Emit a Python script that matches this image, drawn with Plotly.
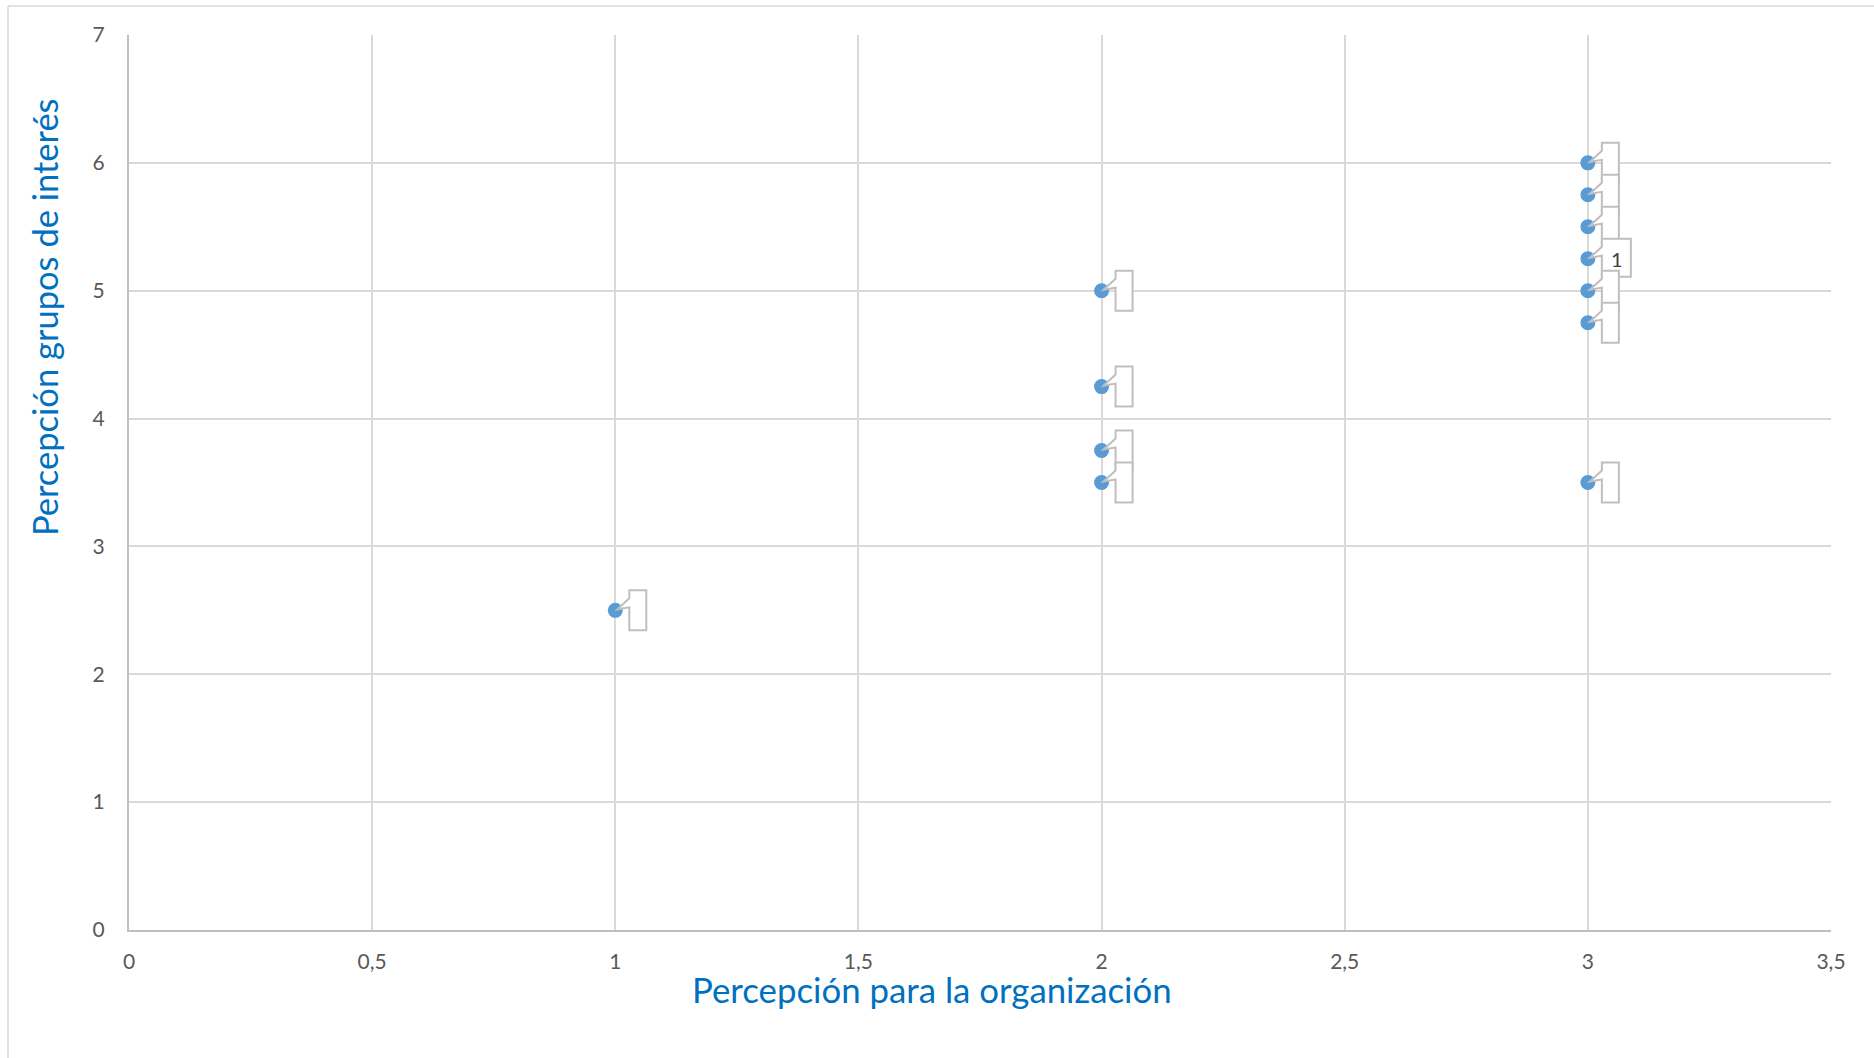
import plotly.graph_objects as go

# Data
org_x = [1, 2, 2, 2, 2, 3, 3, 3, 3, 3, 3, 3]
grupos_y = [2.5, 5, 4.25, 3.75, 3.5, 6, 5.75, 5.5, 5.25, 5, 4.75, 3.5]
point_labels = ["", "", "", "", "", "", "", "", "1", "", "", ""]

x_ticks = [0, 0.5, 1, 1.5, 2, 2.5, 3, 3.5]
y_ticks = [0, 1, 2, 3, 4, 5, 6, 7]

W, H = 1874, 1058
L, R, T, B = 129, 1831, 35, 930
pw, ph = R - L, B - T

FONT = "Lato"
GRID = "#d9d9d9"
AXIS = "#bfbfbf"
BLUE_TITLE = "#0070c0"


def callout_path(wide):
    # pixel offsets relative to the data point (y up)
    right = 43 if wide else 31
    top = 20
    bottom = -18 if wide else -20
    return (f"M 14 {top} L {right} {top} L {right} {bottom} L 14 {bottom} "
            f"L 14 3 L 2 1 L 14 12 Z")


fig = go.Figure()
fig.add_trace(go.Scatter(
    x=org_x, y=grupos_y, mode="markers",
    marker=dict(size=15, color="#5b9bd5", line=dict(width=0)),
    hoverinfo="x+y", showlegend=False,
))

annotations = []
shapes = []
for xv, yv, lab in zip(org_x, grupos_y, point_labels):
    wide = lab != ""
    shapes.append(dict(
        type="path", xref="x", yref="y", xsizemode="pixel", ysizemode="pixel",
        xanchor=xv, yanchor=yv, path=callout_path(wide),
        fillcolor="white", line=dict(color=AXIS, width=2), layer="above",
    ))
    if wide:
        annotations.append(dict(
            x=xv, y=yv, xref="x", yref="y", text=lab, showarrow=False,
            xshift=29, yshift=0, xanchor="center", yanchor="middle",
            font=dict(family=FONT, size=20, color="#404040"),
        ))

# axis titles
annotations.append(dict(
    text="Percepción para la organización", xref="paper", yref="paper",
    x=(932 - L) / pw, y=(B - 990) / ph, xanchor="center", yanchor="middle",
    showarrow=False, font=dict(family=FONT, size=34.8, color=BLUE_TITLE),
))
annotations.append(dict(
    text="Percepción grupos de interés", xref="paper", yref="paper",
    x=(44 - L) / pw, y=(B - 317) / ph, xanchor="center", yanchor="middle",
    textangle=-90,
    showarrow=False, font=dict(family=FONT, size=34.5, color=BLUE_TITLE),
))

shapes += [
    # outer chart border (left and top)
    dict(type="line", xref="paper", yref="paper",
         x0=(8 - L) / pw, x1=(8 - L) / pw, y0=(B - 1060) / ph, y1=(B - 6) / ph,
         line=dict(color=GRID, width=1.5)),
    dict(type="line", xref="paper", yref="paper",
         x0=(8 - L) / pw, x1=(1880 - L) / pw, y0=(B - 6) / ph, y1=(B - 6) / ph,
         line=dict(color=GRID, width=1.5)),
]

fig.update_layout(
    width=W, height=H,
    margin=dict(l=L, r=W - R, t=T, b=H - B),
    paper_bgcolor="white", plot_bgcolor="white",
    separators=", ",
    font=dict(family=FONT, size=21, color="#595959"),
    annotations=annotations, shapes=shapes,
    xaxis=dict(range=[0, 3.5], tickvals=x_ticks, showgrid=True, gridcolor=GRID,
               gridwidth=1.5, zeroline=False, showline=True, linecolor=AXIS,
               linewidth=2, ticks="", ticklabelstandoff=12,
               tickfont=dict(family=FONT, size=21, color="#595959")),
    yaxis=dict(range=[0, 7], tickvals=y_ticks, showgrid=True, gridcolor=GRID,
               gridwidth=1.5, zeroline=False, showline=True, linecolor=AXIS,
               linewidth=2, ticks="", ticklabelstandoff=18,
               tickfont=dict(family=FONT, size=21, color="#595959")),
)

fig.write_html("out.html")
